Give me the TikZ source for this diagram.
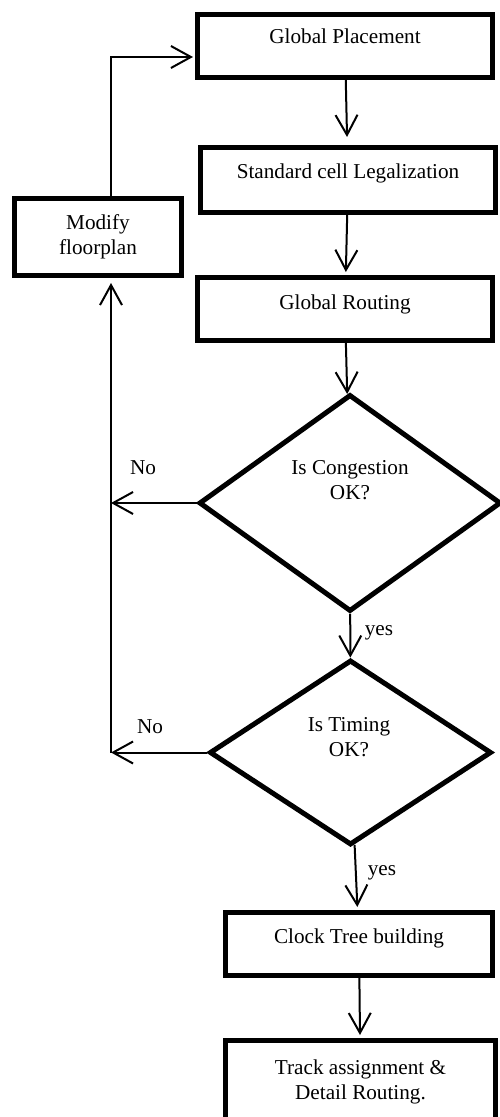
\documentclass[tikz,border=0pt]{standalone}
\usepackage{fontspec}
\setmainfont{Liberation Serif}
\usepackage{tikz}
\usetikzlibrary{positioning,arrows.meta,calc,shapes.geometric}
\tikzset{
  stage/.style ={rectangle, draw, line width=2.5pt, inner sep=0pt, align=center},
  check/.style ={diamond, draw, line width=2.5pt, inner sep=0pt},
  txt/.style   ={inner sep=0pt, align=center},
  % open barb arrows between the steps of the flow
  flow/.style  ={draw, line width=1pt, -{Straight Barb[length=10pt,width=11pt]}},
}

\begin{document}
\begin{tikzpicture}[x=0.5pt, y=-0.5pt, font=\fontsize{10.6pt}{12.5pt}\selectfont]
\useasboundingbox (0,0) rectangle (499,1117);
\foreach \n/\x/\y/\w/\h/\d/\t in {%
   place/345/46/147.5/31.5/9.5/Global Placement,
   legal/348/180/147.5/32.5/8.5/Standard cell Legalization,
   route/345/309/147.5/31.5/7.5/Global Routing,
   clock/359/944/133.5/31.5/8.5/Clock Tree building}
  {\node[stage, minimum width=\w pt, minimum height=\h pt,
         text height=7.5pt, text depth=\d pt] (\n) at (\x,\y) {\t};}
\node[stage, minimum width=83.5pt, minimum height=38.5pt] (modify) at (98,237)
   {Modify\\floorplan};
\node[stage, minimum width=135pt, minimum height=41pt] (track) at (360.5,1081.5)
   {Track assignment \&\\Detail Routing.};
\node[check, minimum width=151pt, minimum height=108.5pt] (cong) at (350,503) {};
\node[check, minimum width=141pt, minimum height=92.5pt] (timing) at (350.5,752.5) {};
\node[txt] (congtxt) at (350,480.5) {Is Congestion\\OK?};
\node[txt] (timtxt) at (349,737.5) {Is Timing\\OK?};
\node[txt] (no1) at (143,468) {No};
\node[txt] (no2) at (150,727) {No};
\node[txt] (yes1) at (379,633) {yes};
\node[txt] (yes2) at (382,873) {yes};
\coordinate (spine) at (111,0);
\coordinate (loopin) at ($(place.west)+(0,11)$);
\draw[flow, shorten >=4pt] (place) -- (legal);
\draw[flow, shorten >=1.5pt] (legal) -- (route);
\draw[flow] (route) -- (cong);
\draw[flow] (cong) -- (timing);
\draw[flow, shorten >=1.5pt] (timing) -- (clock);
\draw[flow, shorten >=1.5pt] (clock) -- (track);
\draw[flow] (cong.west) -- (cong.west -| spine);
\draw[flow] (timing.west) -- (timing.west -| spine);
\draw[flow, shorten >=2.5pt] (timing.west -| spine) -- (modify.south -| spine);
\draw[flow, shorten >=1pt] (modify.north -| spine) |- (loopin);
\end{tikzpicture}
\end{document}
